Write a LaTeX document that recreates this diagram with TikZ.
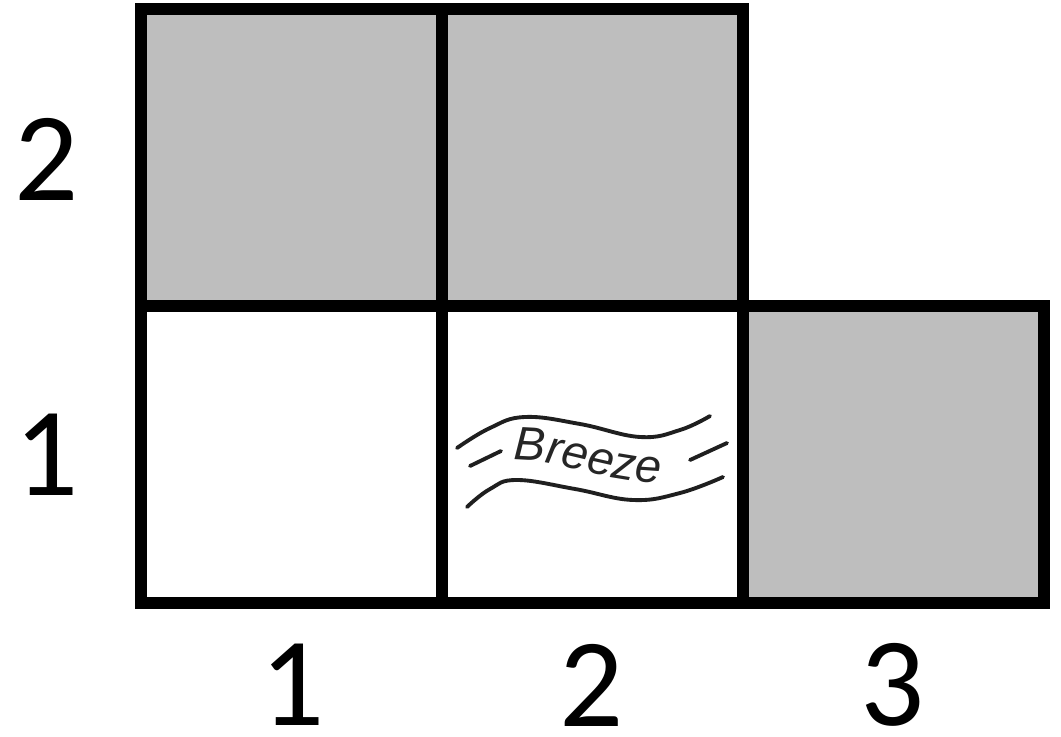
\documentclass[tikz,border=0pt]{standalone}
\usepackage{fontspec}
\setmainfont{Carlito}
\newfontfamily\breezefont{Liberation Sans}
\usetikzlibrary{decorations.text}
\definecolor{CellGray}{HTML}{BEBEBE}
\definecolor{BreezeInk}{HTML}{262626}
\newcommand\breezetext{\breezefont\itshape\fontsize{13.4pt}{16pt}\selectfont\color{BreezeInk}}

\begin{document}
\begin{tikzpicture}[x=0.01cm,y=-0.01cm,
    cell/.style={draw,line width=0.12cm,minimum width=3.01cm,minimum height=2.97cm,inner sep=0pt},
    axislabel/.style={font=\fontsize{36pt}{40pt}\selectfont,inner sep=0pt},
    wave/.style={line width=1.1pt,line cap=round,black!88}]
    \useasboundingbox (0,0) rectangle (1061,737);
    % grid cells
    \foreach \c/\r/\f in {1/2/CellGray,2/2/CellGray,1/1/white,2/1/white,3/1/CellGray}
      \node[cell,fill=\f] (cell\c\r) at ({141+301*(\c-0.5)},{751.5-297*\r}) {};
    % row and column numbers
    \foreach \r/\y in {1/455,2/159} \node[axislabel] (row\r) at (47,\y) {\r};
    \foreach \c/\x in {1/293,2/592,3/893} \node[axislabel] (col\c) at (\x,685) {\c};
    % breeze mark in cell (2,1)
    \draw[wave] plot[smooth,tension=0.7] coordinates {(457,448) (490,428) (525,417) (580,424) (640,437) (680,430) (710,416)};
    \draw[wave] plot[smooth,tension=0.7] coordinates {(467,507) (490,489) (517,480) (575,489) (633,500) (680,493) (723,477)};
    \draw[wave] (470,466) -- (501,451);
    \draw[wave] (690,460) -- (727,443);
    \path[decorate,decoration={text along path,text={|\breezetext|Breeze},text align=left}]
      (513,461) .. controls (555,456) and (610,486) .. (672,482);
  \end{tikzpicture}
\end{document}
